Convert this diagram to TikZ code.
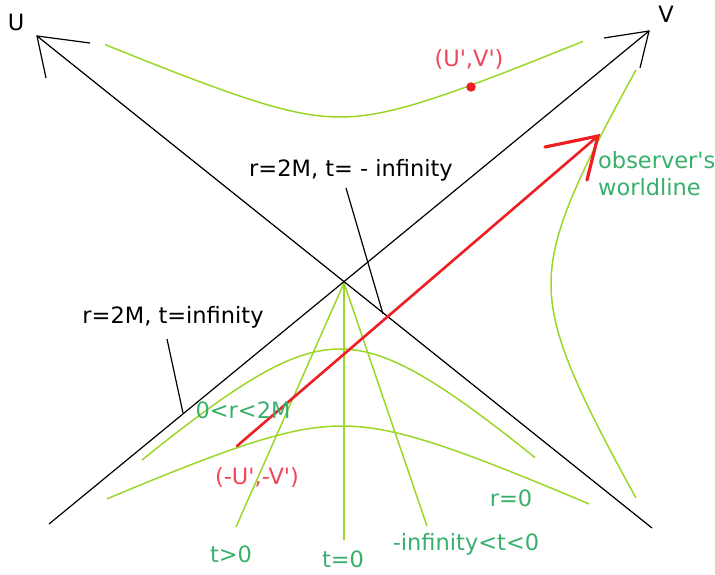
\documentclass[tikz,border=0pt]{standalone}
\usepackage{fontspec}
\setmainfont{DejaVu Sans}[Ligatures=TeXOff]
\definecolor{lgreen}{RGB}{156,214,40}
\definecolor{txtgreen}{RGB}{56,176,108}
\definecolor{lred}{RGB}{236,32,36}
\definecolor{txtred}{RGB}{240,70,90}
\begin{document}
\begin{tikzpicture}[x=1pt,y=-1pt,
  lbl/.style={inner sep=0pt, font=\fontsize{22.5}{27}\selectfont, anchor=base},
  gtxt/.style={lbl, text=txtgreen},
  rtxt/.style={lbl, text=txtred},
  btxt/.style={lbl, text=black},
  gline/.style={draw=lgreen, line width=1.5pt},
  bline/.style={draw=black, line width=1.2pt},
  rline/.style={draw=lred, line width=2.6pt, line cap=round},
  rhead/.style={draw=lred, line width=3.2pt, line cap=round}]
\useasboundingbox (0,0) rectangle (715,575);
% key points
\coordinate (Utip) at (37,36);
\coordinate (Aend) at (652,528);
\coordinate (Vtip) at (649,31);
\coordinate (Bend) at (49,524);
\coordinate (Uh1) at (90,43);
\coordinate (Uh2) at (46,78);
\coordinate (Vh1) at (604,38);
\coordinate (Vh2) at (640,68);
\coordinate (O) at (344,283);
\coordinate (f1) at (236,527);
\coordinate (f2) at (344,540);
\coordinate (f3) at (427,526);
\coordinate (L1a) at (346,188);
\coordinate (L1b) at (383,314);
\coordinate (L2a) at (167,339);
\coordinate (L2b) at (183,413);
\coordinate (R0) at (237,446);
\coordinate (R1) at (598,136);
\coordinate (Rh1) at (545,147);
\coordinate (Rh2) at (587,180);
% green hyperbolas
\draw[gline] plot[domain=105:583, samples=80, smooth]
  (\x,{117-(10*sqrt(10.89+0.1815*((\x-340)/10)*((\x-340)/10))-33)});
\draw[gline] plot[domain=142:535, samples=80, smooth]
  (\x,{349+10*sqrt(76.56+0.81*((\x-340)/10)*((\x-340)/10))-87.5});
\draw[gline] plot[domain=107:589, samples=80, smooth]
  (\x,{426+10*sqrt(16.24+0.2025*((\x-342)/10)*((\x-342)/10))-40.3});
\draw[gline] plot[domain=70:498, samples=80, smooth]
  ({551+10*sqrt(29.7+0.36*((\x-284)/10)*((\x-284)/10))-54.5},\x);
% green fan
\draw[gline] (O) -- (f1);
\draw[gline] (O) -- (f2);
\draw[gline] (O) -- (f3);
% black axes
\draw[bline] (Utip) -- (Aend);
\draw[bline] (Bend) -- (Vtip);
\draw[bline] (Uh1) -- (Utip) -- (Uh2);
\draw[bline] (Vh1) -- (Vtip) -- (Vh2);
\draw[bline] (L1a) -- (L1b);
\draw[bline] (L2a) -- (L2b);
% red worldline segment
\draw[rline] (R0) -- (R1);
\draw[rhead] (Rh1) -- (R1) -- (Rh2);
\node[circle, fill=lred, minimum size=9.5pt, inner sep=0pt] (dot) at (471,87) {};
% labels
\node[btxt] (U) at (16,31) {U};
\node[btxt] (V) at (666,23) {V};
\node[rtxt] (uv) at (469,67) {(U',V')};
\node[btxt] (hm) at (351,177) {r=2M, t= - infinity};
\node[gtxt, anchor=base west] (obs1) at (598,168) {observer's};
\node[gtxt, anchor=base west] (obs2) at (598,195) {worldline};
\node[btxt] (hp) at (173,323) {r=2M, t=infinity};
\node[gtxt] (reg) at (243,418) {0<r<2M};
\node[rtxt] (muv) at (257,484) {(-U',-V')};
\node[gtxt] (tp) at (231,562) {t>0};
\node[gtxt] (t0) at (343,567) {t=0};
\node[gtxt] (tn) at (466,550) {-infinity<t<0};
\node[gtxt] (r0) at (511,506) {r=0};
\end{tikzpicture}
\end{document}
